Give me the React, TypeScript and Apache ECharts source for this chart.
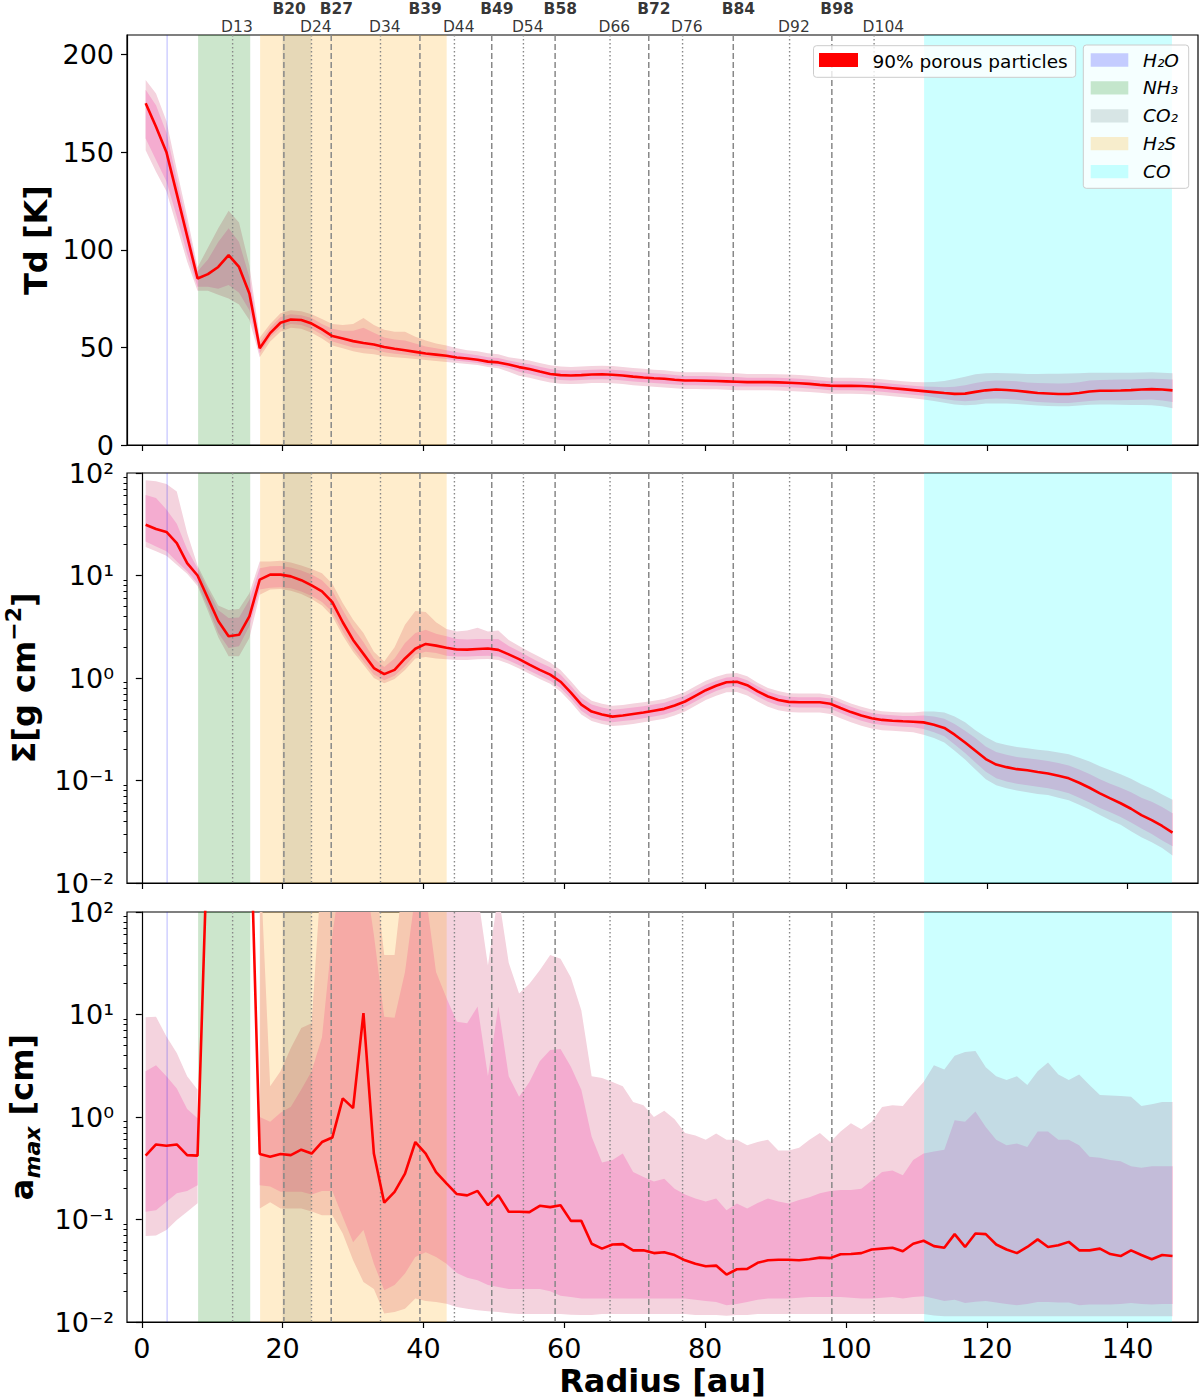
import { useEffect, useRef } from "react";
import * as echarts from "echarts";

const FONT = "DejaVu Sans";

// radius grid [au]
const RADIUS = [
  0.55, 2.02, 3.5, 4.97, 6.44, 7.92, 9.39, 10.86, 12.33, 13.81,
  15.28, 16.75, 18.23, 19.7, 21.17, 22.65, 24.12, 25.59, 27.06, 28.54,
  30.01, 31.48, 32.96, 34.43, 35.9, 37.38, 38.85, 40.32, 41.79, 43.27,
  44.74, 46.21, 47.69, 49.16, 50.63, 52.11, 53.58, 55.05, 56.52, 58.0,
  59.47, 60.94, 62.42, 63.89, 65.36, 66.84, 68.31, 69.78, 71.25, 72.73,
  74.2, 75.67, 77.15, 78.62, 80.09, 81.57, 83.04, 84.51, 85.98, 87.46,
  88.93, 90.4, 91.88, 93.35, 94.82, 96.3, 97.77, 99.24, 100.71, 102.19,
  103.66, 105.13, 106.61, 108.08, 109.55, 111.03, 112.5, 113.97, 115.44, 116.92,
  118.39, 119.86, 121.34, 122.81, 124.28, 125.76, 127.23, 128.7, 130.17, 131.65,
  133.12, 134.59, 136.07, 137.54, 139.01, 140.49, 141.96, 143.43, 144.91, 146.38,
];

// dust temperature [K]: median, inner range (lo1/hi1), outer range (lo2/hi2)
const TD = [
  175, 163, 150, 128.6, 107, 85.3, 87.5, 91.2, 97.2, 91.2,
  77.6, 49.5, 57.3, 62.6, 64.3, 64, 62.2, 59.2, 55.8, 54.5,
  53.2, 52.2, 51.5, 50.2, 49.3, 48.5, 47.7, 46.9, 46.3, 45.7,
  44.8, 44.3, 43.7, 42.7, 42.3, 41.2, 39.9, 38.9, 37.6, 36.4,
  35.8, 35.6, 35.8, 36.1, 36.2, 36.0, 35.6, 35.0, 34.6, 34.2,
  33.9, 33.4, 33.0, 33.0, 32.9, 32.8, 32.6, 32.4, 32.2, 32.2,
  32.2, 32.1, 31.9, 31.6, 31.3, 30.8, 30.4, 30.3, 30.3, 30.2,
  30.0, 29.6, 29.1, 28.6, 28.1, 27.6, 27.1, 26.6, 26.2, 26.3,
  27.2, 28.0, 28.4, 28.2, 27.8, 27.2, 26.6, 26.4, 26.1, 26.1,
  26.6, 27.4, 27.8, 27.8, 27.9, 28.1, 28.4, 28.6, 28.4, 28.0,
];
const TD_LO1 = [
  157, 146, 135, 117, 98, 81, 81, 80, 82, 78,
  69, 47, 55, 60, 62, 61.5, 59.5, 56.5, 53, 51.5,
  50, 49.5, 49, 47.5, 46.8, 46.2, 45.5, 45, 44.5, 44,
  43.2, 42.7, 42, 41, 40.5, 39.3, 37.5, 36.4, 35.1, 33.9,
  33.3, 33.1, 33.3, 33.6, 33.7, 33.5, 33.1, 32.5, 32.1, 31.7,
  31.4, 31, 30.6, 30.6, 30.5, 30.4, 30.2, 30, 29.9, 29.9,
  29.9, 29.8, 29.6, 29.3, 29, 28.5, 28.1, 28, 28, 27.9,
  27.7, 27.3, 26.8, 26.3, 25.8, 25.2, 24.5, 23.6, 22.8, 22.4,
  22.8, 23.5, 23.8, 23.6, 23.2, 22.6, 22, 21.8, 21.5, 21.5,
  22, 22.6, 22.9, 22.9, 22.9, 23, 23.2, 23.3, 22.8, 22,
];
const TD_HI1 = [
  182, 174, 160, 136, 113, 89, 95, 104, 111, 104,
  86, 52.5, 60, 65.5, 67, 66.5, 65, 62, 59.5, 58.5,
  58.5, 60, 57.5, 55, 54, 53.5, 52, 50.5, 49.5, 48.5,
  47.5, 46.8, 46, 45, 44.5, 43.3, 42.3, 41.4, 40.1, 38.9,
  38.3, 38.1, 38.3, 38.6, 38.7, 38.5, 38.1, 37.5, 37.1, 36.7,
  36.4, 35.8, 35.4, 35.4, 35.3, 35.2, 35, 34.8, 34.5, 34.5,
  34.5, 34.4, 34.2, 33.9, 33.6, 33.1, 32.7, 32.6, 32.6, 32.5,
  32.3, 31.9, 31.4, 30.9, 30.4, 30, 29.8, 29.6, 29.8, 30.6,
  31.8, 32.6, 33, 32.9, 32.6, 32, 31.7, 31.6, 31.5, 31.6,
  32.2, 33, 33.3, 33.4, 33.5, 33.6, 33.8, 33.9, 33.8, 33.6,
];
const TD_LO2 = [
  151, 140, 130, 112, 94, 79, 79, 77, 75, 72,
  64, 45, 53, 58, 60, 59.5, 57.5, 54.5, 51, 49.5,
  48, 47, 46.5, 45.5, 45, 44.5, 44, 43.5, 43, 42.5,
  42, 41.5, 41, 40, 39.3, 37.5, 35.5, 34.5, 33.2, 32,
  31.4, 31.2, 31.4, 31.7, 31.8, 31.6, 31.2, 30.6, 30.2, 29.8,
  29.5, 29.1, 28.7, 28.7, 28.6, 28.5, 28.3, 28.1, 28, 28,
  28, 27.9, 27.7, 27.4, 27.1, 26.7, 26.3, 26.2, 26.2, 26.1,
  25.9, 25.5, 25, 24.5, 24, 23.3, 22.5, 21.6, 20.8, 20.3,
  20.6, 21.2, 21.3, 21.2, 21, 20.6, 20.2, 20, 19.8, 19.8,
  20.2, 20.6, 20.8, 20.7, 20.6, 20.5, 20.5, 20.3, 19.8, 18.8,
];
const TD_HI2 = [
  187, 180, 166, 141, 117, 91, 101, 111, 120, 114,
  92, 55, 62, 67.5, 69, 68.5, 67, 64.5, 62, 61.5,
  62, 65, 61.5, 59, 58, 58, 55.5, 53.5, 52, 51,
  49.5, 48.5, 48, 47, 46.5, 45, 44.2, 43.3, 42, 40.8,
  40.2, 40, 40.2, 40.5, 40.6, 40.4, 40, 39.4, 39, 38.6,
  38.3, 37.7, 37.3, 37.3, 37.2, 37.1, 36.9, 36.7, 36.4, 36.4,
  36.4, 36.3, 36.1, 35.8, 35.5, 35, 34.5, 34.4, 34.4, 34.3,
  34.1, 33.7, 33.2, 32.7, 32.3, 32.2, 32.3, 32.8, 33.8, 35,
  36.2, 36.7, 36.9, 36.8, 36.6, 36.4, 36.4, 36.5, 36.5, 36.6,
  36.8, 37, 37, 37, 37, 37, 37.1, 37.2, 37, 36.7,
];

// dust surface density [g cm^-2]
const SIGMA = [
  31.3, 28.4, 26.6, 20.7, 13.2, 10.0, 6.0, 3.6, 2.55, 2.64,
  4.0, 9.1, 10.2, 10.2, 9.8, 9.0, 8.0, 7.0, 5.5, 3.5,
  2.35, 1.72, 1.25, 1.09, 1.2, 1.55, 1.93, 2.15, 2.07, 1.97,
  1.9, 1.89, 1.92, 1.94, 1.88, 1.7, 1.53, 1.35, 1.2, 1.08,
  0.92, 0.72, 0.55, 0.47, 0.44, 0.42, 0.43, 0.445, 0.46, 0.48,
  0.5, 0.54, 0.59, 0.67, 0.76, 0.84, 0.91, 0.92, 0.85, 0.74,
  0.66, 0.61, 0.585, 0.58, 0.58, 0.58, 0.56, 0.51, 0.465, 0.43,
  0.405, 0.39, 0.383, 0.378, 0.374, 0.369, 0.35, 0.326, 0.28, 0.235,
  0.195, 0.162, 0.143, 0.135, 0.129, 0.126, 0.121, 0.117, 0.111, 0.105,
  0.095, 0.085, 0.075, 0.067, 0.06, 0.053, 0.046, 0.041, 0.036, 0.031,
];
const SIG_LO1 = [
  21.5, 19.2, 17.2, 13.7, 11, 8.4, 4.9, 2.75, 1.96, 2.04,
  3.2, 7.3, 7.6, 7.7, 7.5, 7.0, 6.3, 5.5, 4.4, 2.85,
  1.95, 1.45, 1.08, 0.95, 1.05, 1.3, 1.7, 1.8, 1.75, 1.65,
  1.62, 1.62, 1.64, 1.65, 1.62, 1.48, 1.33, 1.18, 1.05, 0.94,
  0.8, 0.63, 0.48, 0.41, 0.385, 0.37, 0.38, 0.39, 0.405, 0.42,
  0.44, 0.475, 0.52, 0.59, 0.67, 0.745, 0.81, 0.82, 0.755, 0.66,
  0.585, 0.54, 0.52, 0.515, 0.515, 0.515, 0.5, 0.455, 0.415, 0.383,
  0.36, 0.347, 0.34, 0.335, 0.33, 0.318, 0.295, 0.27, 0.225, 0.185,
  0.15, 0.122, 0.105, 0.098, 0.093, 0.09, 0.087, 0.084, 0.08, 0.075,
  0.068, 0.061, 0.054, 0.049, 0.044, 0.039, 0.034, 0.03, 0.026, 0.0228,
];
const SIG_HI1 = [
  61, 57, 44, 32, 18, 11.8, 7.2, 4.6, 3.85, 3.9,
  5.8, 11.8, 12.3, 12.4, 12, 11.2, 10.2, 9.0, 7.1, 4.6,
  3.1, 2.25, 1.55, 1.28, 1.55, 2.2, 2.75, 2.95, 2.7, 2.55,
  2.4, 2.38, 2.4, 2.4, 2.4, 2.05, 1.82, 1.6, 1.42, 1.27,
  1.08, 0.84, 0.64, 0.55, 0.515, 0.49, 0.5, 0.515, 0.53, 0.55,
  0.575, 0.62, 0.67, 0.76, 0.86, 0.94, 1.01, 1.03, 0.95, 0.83,
  0.74, 0.685, 0.655, 0.65, 0.65, 0.65, 0.63, 0.575, 0.525, 0.485,
  0.455, 0.44, 0.432, 0.427, 0.425, 0.43, 0.42, 0.4, 0.355, 0.305,
  0.26, 0.215, 0.19, 0.178, 0.17, 0.165, 0.16, 0.155, 0.148, 0.14,
  0.128, 0.116, 0.103, 0.093, 0.085, 0.077, 0.068, 0.062, 0.055, 0.048,
];
const SIG_LO2 = [
  19, 17.2, 15.6, 12.7, 10.4, 7.9, 4.5, 2.5, 1.63, 1.63,
  2.45, 6.5, 7.3, 7.4, 7.1, 6.6, 5.9, 5.1, 4.0, 2.6,
  1.8, 1.35, 1.0, 0.89, 0.98, 1.2, 1.55, 1.6, 1.55, 1.52,
  1.5, 1.5, 1.52, 1.53, 1.5, 1.38, 1.24, 1.1, 0.98, 0.88,
  0.74, 0.58, 0.44, 0.38, 0.355, 0.34, 0.345, 0.355, 0.37, 0.385,
  0.4, 0.43, 0.47, 0.535, 0.61, 0.67, 0.725, 0.73, 0.675, 0.59,
  0.525, 0.485, 0.465, 0.46, 0.46, 0.46, 0.445, 0.405, 0.37, 0.342,
  0.322, 0.31, 0.305, 0.3, 0.295, 0.28, 0.26, 0.235, 0.195, 0.16,
  0.128, 0.103, 0.09, 0.084, 0.08, 0.077, 0.074, 0.072, 0.068, 0.064,
  0.058, 0.052, 0.046, 0.041, 0.037, 0.032, 0.028, 0.025, 0.022, 0.0185,
];
const SIG_HI2 = [
  85, 83, 78, 66, 26, 12.5, 7.8, 5.1, 4.6, 4.7,
  6.7, 13.7, 13.7, 13.9, 13.4, 12.5, 11.6, 10.5, 8.3, 5.4,
  3.7, 2.75, 1.8, 1.45, 2.0, 3.3, 4.5, 4.4, 3.5, 3.0,
  2.85, 2.9, 3.1, 2.85, 2.9, 2.35, 2.05, 1.8, 1.6, 1.42,
  1.2, 0.93, 0.71, 0.6, 0.56, 0.535, 0.545, 0.565, 0.58, 0.6,
  0.625, 0.67, 0.73, 0.83, 0.94, 1.03, 1.1, 1.12, 1.04, 0.9,
  0.8, 0.745, 0.71, 0.705, 0.705, 0.705, 0.68, 0.62, 0.565, 0.523,
  0.492, 0.475, 0.466, 0.46, 0.46, 0.47, 0.47, 0.46, 0.42, 0.37,
  0.31, 0.265, 0.235, 0.222, 0.212, 0.206, 0.2, 0.195, 0.188, 0.18,
  0.167, 0.153, 0.138, 0.126, 0.115, 0.104, 0.092, 0.083, 0.073, 0.065,
];

// maximum grain size [cm]
const AMAX = [
  0.42, 0.54, 0.525, 0.54, 0.425, 0.42, 700, 1000, 1000, 1000,
  2000, 0.435, 0.41, 0.435, 0.425, 0.48, 0.44, 0.57, 0.63, 1.52,
  1.22, 10.3, 0.44, 0.146, 0.186, 0.28, 0.57, 0.44, 0.29, 0.225,
  0.177, 0.172, 0.19, 0.138, 0.173, 0.119, 0.119, 0.118, 0.136, 0.132,
  0.138, 0.097, 0.097, 0.058, 0.052, 0.057, 0.0575, 0.05, 0.05, 0.047,
  0.048, 0.045, 0.04, 0.037, 0.035, 0.0355, 0.029, 0.0327, 0.033, 0.0378,
  0.04, 0.0405, 0.0405, 0.04, 0.041, 0.0425, 0.042, 0.0458, 0.046, 0.047,
  0.051, 0.052, 0.053, 0.049, 0.058, 0.062, 0.055, 0.053, 0.072, 0.054,
  0.073, 0.072, 0.057, 0.051, 0.047, 0.054, 0.064, 0.054, 0.056, 0.0605,
  0.05, 0.05, 0.052, 0.046, 0.044, 0.05, 0.045, 0.041, 0.045, 0.044,
];
const AM_LO1 = [
  0.119, 0.123, 0.149, 0.18, 0.19, 0.216, null, null, null, null,
  null, 0.216, 0.21, 0.186, 0.186, 0.186, 0.175, 0.19, 0.19, 0.106,
  0.06, 0.079, 0.037, 0.0204, 0.023, 0.0297, 0.043, 0.048, 0.043, 0.037,
  0.03, 0.027, 0.0255, 0.023, 0.022, 0.021, 0.021, 0.021, 0.021, 0.02,
  0.018, 0.0175, 0.017, 0.017, 0.017, 0.017, 0.017, 0.017, 0.017, 0.017,
  0.017, 0.017, 0.017, 0.0165, 0.016, 0.0157, 0.0146, 0.015, 0.0157, 0.0165,
  0.017, 0.017, 0.017, 0.0172, 0.0175, 0.0175, 0.0175, 0.0175, 0.0172, 0.017,
  0.017, 0.0172, 0.0175, 0.017, 0.0175, 0.0178, 0.017, 0.016, 0.0165, 0.0153,
  0.0158, 0.016, 0.0155, 0.015, 0.0146, 0.015, 0.0157, 0.0157, 0.0155, 0.0155,
  0.0146, 0.0148, 0.0148, 0.0148, 0.015, 0.0153, 0.015, 0.0148, 0.015, 0.015,
];
const AM_HI1 = [
  2.8, 3.2, 2.5, 1.9, 1.2, 0.97, null, null, null, null,
  null, 1.0, 0.9, 1.1, 1.26, 1.85, 2.8, 6, 60, 300,
  300, 300, 60, 9.5, 9.3, 26, 150, 150, 26, 14.5,
  8.5, 8.2, 12, 2.5, 12, 2.5, 1.58, 2.2, 3.5, 4.5,
  4.6, 3.1, 1.84, 0.64, 0.36, 0.38, 0.44, 0.29, 0.26, 0.235,
  0.25, 0.2, 0.175, 0.16, 0.15, 0.16, 0.123, 0.143, 0.128, 0.145,
  0.16, 0.15, 0.143, 0.155, 0.165, 0.18, 0.19, 0.194, 0.194, 0.2,
  0.24, 0.29, 0.3, 0.27, 0.38, 0.44, 0.46, 0.48, 0.93, 0.9,
  1.13, 0.8, 0.6, 0.53, 0.55, 0.51, 0.72, 0.72, 0.6, 0.6,
  0.53, 0.41, 0.4, 0.38, 0.37, 0.33, 0.32, 0.33, 0.33, 0.33,
];
const AM_LO2 = [
  0.069, 0.07, 0.079, 0.099, 0.119, 0.144, null, null, null, null,
  null, 0.128, 0.147, 0.128, 0.128, 0.128, 0.12, 0.11, 0.11, 0.073,
  0.04, 0.0246, 0.021, 0.0121, 0.0125, 0.0135, 0.017, 0.016, 0.0157, 0.0151,
  0.014, 0.0135, 0.013, 0.0127, 0.0125, 0.0122, 0.012, 0.012, 0.012, 0.012,
  0.012, 0.0118, 0.0117, 0.0117, 0.012, 0.012, 0.012, 0.012, 0.012, 0.012,
  0.012, 0.012, 0.012, 0.0117, 0.0117, 0.0117, 0.0115, 0.0117, 0.0117, 0.012,
  0.012, 0.012, 0.012, 0.012, 0.012, 0.012, 0.012, 0.012, 0.012, 0.012,
  0.012, 0.012, 0.012, 0.012, 0.012, 0.012, 0.0116, 0.0114, 0.0114, 0.0114,
  0.0114, 0.0114, 0.0114, 0.0114, 0.0114, 0.0114, 0.0114, 0.0114, 0.0114, 0.0114,
  0.0114, 0.0114, 0.0114, 0.0114, 0.0114, 0.0114, 0.0114, 0.0114, 0.0114, 0.0114,
];
const AM_HI2 = [
  9.4, 9.5, 6.1, 4.2, 2.5, 1.84, null, null, null, null,
  null, 400, 2.0, 2.8, 4.7, 7.4, 8.2, 300, 300, 300,
  300, 300, 300, 38, 38, 300, 300, 300, 300, 300,
  200, 200, 150, 30, 150, 32, 16, 20, 27, 38,
  35, 23, 11, 2.5, 2.4, 2.2, 2.0, 1.4, 1.3, 1.0,
  1.15, 0.95, 0.7, 0.66, 0.6, 0.69, 0.6, 0.6, 0.53, 0.57,
  0.6, 0.47, 0.47, 0.5, 0.6, 0.7, 0.57, 0.72, 0.87, 0.76,
  0.9, 1.25, 1.3, 1.28, 1.7, 2.2, 3.2, 2.9, 3.95, 4.3,
  4.4, 3.06, 2.5, 2.3, 2.5, 2.05, 2.8, 3.4, 2.6, 2.3,
  2.6, 2.05, 1.64, 1.62, 1.6, 1.58, 1.28, 1.33, 1.4, 1.4,
];

// snowlines
const SNOW_NAMES = ["H₂O", "NH₃", "CO₂", "H₂S", "CO"];
const SNOW_START = [3.5, 8.0, 20.0, 16.8, 111.1];
const SNOW_END = [3.7, 15.4, 24.05, 43.3, 146.3];

// rings (bright) and gaps (dark)
const RING_NAMES = ["B20", "B27", "B39", "B49", "B58", "B72", "B84", "B98"];
const RING_R = [20.18, 26.9, 39.5, 49.7, 58.7, 72.0, 84.0, 98.0];
const GAP_NAMES = ["D13", "D24", "D34", "D44", "D54", "D66", "D76", "D92", "D104"];
const GAP_R = [12.9, 24.1, 33.9, 44.4, 54.2, 66.5, 76.8, 92.0, 104.0];

const X_TICKS = [0, 20, 40, 60, 80, 100, 120, 140];
const TD_TICKS = [0, 50, 100, 150, 200];
const LOG_TICKS = [0.01, 0.1, 1, 10, 100];
const LOG_TICK_LABELS = ["10⁻²", "10⁻¹", "10⁰", "10¹", "10²"];
const LOG_MINOR = [
  0.02, 0.03, 0.04, 0.05, 0.06, 0.07, 0.08, 0.09,
  0.2, 0.3, 0.4, 0.5, 0.6, 0.7, 0.8, 0.9,
  2, 3, 4, 5, 6, 7, 8, 9,
  20, 30, 40, 50, 60, 70, 80, 90,
];

const SNOW_COLORS = [
  "rgba(0,0,255,0.2)",
  "rgba(0,128,0,0.2)",
  "rgba(47,79,79,0.15)",
  "rgba(255,165,0,0.2)",
  "rgba(0,255,255,0.2)",
];
const OUTER = "#f4d3de";
const INNER = "#f4acd0";
const Y_MAIN = [0, 1, 3];
const Y_REF = [100, 1, 1];

function bandSeries(k: number, lo: (number | null)[], hi: (number | null)[], color: string) {
  return {
    type: "custom",
    xAxisIndex: k,
    yAxisIndex: Y_MAIN[k],
    z: 1,
    silent: true,
    data: RADIUS.map((r, i) => [r, lo[i], hi[i]]),
    renderItem: (params: any, api: any) => {
      if (params.dataIndex !== 0) return null;
      const cs = params.coordSys;
      const children: any[] = [];
      let seg: number[] = [];
      const flush = () => {
        if (seg.length > 1) {
          const top = seg.map((i) => api.coord([RADIUS[i], hi[i]]));
          const bot = seg.map((i) => api.coord([RADIUS[i], lo[i]])).reverse();
          children.push({ type: "polygon", shape: { points: top.concat(bot) }, style: { fill: color } });
        }
        seg = [];
      };
      RADIUS.forEach((_, i) => {
        if (lo[i] == null || hi[i] == null) flush();
        else seg.push(i);
      });
      flush();
      return {
        type: "group",
        children,
        clipPath: { type: "rect", shape: { x: cs.x, y: cs.y, width: cs.width, height: cs.height } },
      };
    },
  };
}

function snowSeries(k: number) {
  return {
    type: "custom",
    xAxisIndex: k,
    yAxisIndex: Y_MAIN[k],
    z: 3,
    silent: true,
    data: SNOW_START.map((s, i) => [s, Y_REF[k], SNOW_END[i], i]),
    renderItem: (params: any, api: any) => {
      const cs = params.coordSys;
      const x0 = api.coord([api.value(0), Y_REF[k]])[0];
      const x1 = api.coord([api.value(2), Y_REF[k]])[0];
      return {
        type: "rect",
        shape: { x: x0, y: cs.y, width: x1 - x0, height: cs.height },
        style: { fill: SNOW_COLORS[api.value(3)] },
      };
    },
  };
}

function vlineSeries(k: number, xs: number[], dash: number[], width: number) {
  return {
    type: "custom",
    xAxisIndex: k,
    yAxisIndex: Y_MAIN[k],
    z: 4,
    silent: true,
    data: xs.map((x) => [x, Y_REF[k]]),
    renderItem: (params: any, api: any) => {
      const cs = params.coordSys;
      const x = api.coord([api.value(0), Y_REF[k]])[0];
      return {
        type: "line",
        shape: { x1: x, y1: cs.y, x2: x, y2: cs.y + cs.height },
        style: { stroke: "#888888", lineWidth: width, lineDash: dash },
      };
    },
  };
}

function lineSeries(k: number, vals: number[]) {
  return {
    type: "line",
    xAxisIndex: k,
    yAxisIndex: Y_MAIN[k],
    z: 5,
    silent: true,
    clip: true,
    showSymbol: false,
    symbol: "none",
    data: RADIUS.map((r, i) => [r, vals[i]]),
    lineStyle: { color: "#ff0000", width: 2.6 },
  };
}

const axisLineStyle = { color: "#000", width: 1.2 };

function xAxis(k: number) {
  const bottom = k === 2;
  return {
    type: "value",
    gridIndex: k,
    min: -2.1,
    max: 150,
    axisLine: { show: true, onZero: false, lineStyle: axisLineStyle },
    axisTick: { show: true, customValues: X_TICKS, length: 6, lineStyle: axisLineStyle },
    axisLabel: {
      show: bottom,
      customValues: X_TICKS,
      fontSize: 27,
      fontFamily: FONT,
      color: "#000",
      margin: 13,
    },
    splitLine: { show: false },
    name: bottom ? "Radius [au]" : "",
    nameLocation: "middle",
    nameGap: 43,
    nameTextStyle: { fontSize: 32, fontWeight: "bold", fontFamily: FONT, color: "#000" },
  };
}

function logAxisMajor(k: number, name: string, gap: number, rich: any) {
  return {
    type: "log",
    logBase: 10,
    gridIndex: k,
    position: "left",
    min: 0.01,
    max: 100,
    axisLine: { show: true, lineStyle: axisLineStyle },
    axisTick: { show: true, customValues: LOG_TICKS, length: 6, lineStyle: axisLineStyle },
    axisLabel: {
      customValues: LOG_TICKS,
      formatter: (v: number) => LOG_TICK_LABELS[Math.round(Math.log10(v)) + 2],
      fontSize: 27,
      fontFamily: FONT,
      color: "#000",
      margin: 13,
    },
    splitLine: { show: false },
    name,
    nameLocation: "middle",
    nameRotate: 90,
    nameGap: gap,
    nameTextStyle: { fontSize: 32, fontWeight: "bold", fontFamily: FONT, color: "#000", rich },
  };
}

function logAxisMinor(k: number) {
  return {
    type: "log",
    logBase: 10,
    gridIndex: k,
    position: "left",
    min: 0.01,
    max: 100,
    axisLine: { show: false },
    axisTick: { show: true, customValues: LOG_MINOR, length: 3.5, lineStyle: { color: "#000", width: 1 } },
    axisLabel: { show: false },
    splitLine: { show: false },
  };
}

function labelSeries(names: string[], xs: number[], bold: boolean, dy: number) {
  return {
    type: "scatter",
    xAxisIndex: 0,
    yAxisIndex: 0,
    z: 6,
    silent: true,
    clip: false,
    symbolSize: 1,
    itemStyle: { color: "transparent" },
    data: xs.map((x, i) => ({ value: [x, 210], name: names[i] })),
    label: {
      show: true,
      formatter: "{b}",
      position: [-11, dy],
      align: "left",
      verticalAlign: "bottom",
      fontSize: 15.5,
      lineHeight: 14,
      fontWeight: bold ? "bold" : "normal",
      fontFamily: FONT,
      color: "#000",
    },
  };
}

function legendGraphics() {
  const els: any[] = [
    {
      type: "rect",
      z: 100,
      shape: { x: 813.5, y: 45.7, width: 262.2, height: 31.6, r: 3 },
      style: { fill: "rgba(255,255,255,0.8)", stroke: "#cccccc", lineWidth: 1 },
    },
    { type: "rect", z: 101, shape: { x: 819, y: 53, width: 39, height: 14 }, style: { fill: "#ff0000" } },
    {
      type: "text",
      z: 101,
      x: 872.5,
      y: 61.5,
      style: { text: "90% porous particles", fontSize: 18.5, fontFamily: FONT, fill: "#000", verticalAlign: "middle" },
    },
    {
      type: "rect",
      z: 100,
      shape: { x: 1083.3, y: 45, width: 105.4, height: 143.3, r: 3 },
      style: { fill: "rgba(255,255,255,0.8)", stroke: "#cccccc", lineWidth: 1 },
    },
  ];
  SNOW_NAMES.forEach((n, i) => {
    const cy = 60 + i * 27.9;
    els.push({
      type: "rect",
      z: 101,
      shape: { x: 1090.7, y: cy - 6.65, width: 37.6, height: 13.3 },
      style: { fill: SNOW_COLORS[i] },
    });
    els.push({
      type: "text",
      z: 101,
      x: 1143,
      y: cy,
      style: { text: n, fontSize: 18.5, fontStyle: "italic", fontFamily: FONT, fill: "#000", verticalAlign: "middle" },
    });
  });
  return els;
}

export default function App() {
  const ref = useRef<HTMLDivElement>(null);

  useEffect(() => {
    document.body.style.margin = "0";
    if (!ref.current) return;
    const chart = echarts.init(ref.current, undefined, { renderer: "svg" });

    const gridBase = {
      left: 127,
      width: 1071,
      height: 410,
      show: true,
      borderColor: "#000",
      borderWidth: 1.2,
      backgroundColor: "transparent",
      containLabel: false,
      outerBoundsMode: "none",
    };

    const option: any = {
      animation: false,
      textStyle: { fontFamily: FONT },
      grid: [
        { ...gridBase, top: 35 },
        { ...gridBase, top: 473 },
        { ...gridBase, top: 912 },
      ],
      xAxis: [xAxis(0), xAxis(1), xAxis(2)],
      yAxis: [
        {
          type: "value",
          gridIndex: 0,
          position: "left",
          min: 0,
          max: 210,
          axisLine: { show: true, onZero: false, lineStyle: axisLineStyle },
          axisTick: { show: true, customValues: TD_TICKS, length: 6, lineStyle: axisLineStyle },
          axisLabel: { customValues: TD_TICKS, fontSize: 27, fontFamily: FONT, color: "#000", margin: 13 },
          splitLine: { show: false },
          name: "Td [K]",
          nameLocation: "middle",
          nameRotate: 90,
          nameGap: 75,
          nameTextStyle: { fontSize: 32, fontWeight: "bold", fontFamily: FONT, color: "#000" },
        },
        logAxisMajor(1, "{b|Σ[g cm}{p|−2}{b|]}", 81, {
          b: { fontSize: 32, fontWeight: "bold", fontFamily: FONT, color: "#000", lineHeight: 44, verticalAlign: "middle" },
          p: { fontSize: 22, fontFamily: FONT, color: "#000", lineHeight: 26, verticalAlign: "top" },
        }),
        logAxisMinor(1),
        logAxisMajor(2, "{b|a}{s|max}{b| [cm]}", 81, {
          b: { fontSize: 32, fontWeight: "bold", fontFamily: FONT, color: "#000", lineHeight: 44, verticalAlign: "middle" },
          s: { fontSize: 22, fontStyle: "italic", fontFamily: FONT, color: "#000", lineHeight: 26, verticalAlign: "bottom" },
        }),
        logAxisMinor(2),
      ],
      series: [
        bandSeries(0, TD_LO2, TD_HI2, OUTER),
        bandSeries(0, TD_LO1, TD_HI1, INNER),
        snowSeries(0),
        vlineSeries(0, RING_R, [6, 3], 1.5),
        vlineSeries(0, GAP_R, [1.5, 2.5], 1.4),
        lineSeries(0, TD),
        labelSeries(RING_NAMES, RING_R, true, -18.9),
        labelSeries(GAP_NAMES, GAP_R, false, -0.8),

        bandSeries(1, SIG_LO2, SIG_HI2, OUTER),
        bandSeries(1, SIG_LO1, SIG_HI1, INNER),
        snowSeries(1),
        vlineSeries(1, RING_R, [6, 3], 1.5),
        vlineSeries(1, GAP_R, [1.5, 2.5], 1.4),
        lineSeries(1, SIGMA),

        bandSeries(2, AM_LO2, AM_HI2, OUTER),
        bandSeries(2, AM_LO1, AM_HI1, INNER),
        snowSeries(2),
        vlineSeries(2, RING_R, [6, 3], 1.5),
        vlineSeries(2, GAP_R, [1.5, 2.5], 1.4),
        lineSeries(2, AMAX),
      ],
      graphic: legendGraphics(),
    };

    chart.setOption(option);
    return () => chart.dispose();
  }, []);

  return <div ref={ref} style={{ width: 1200, height: 1400 }} />;
}
